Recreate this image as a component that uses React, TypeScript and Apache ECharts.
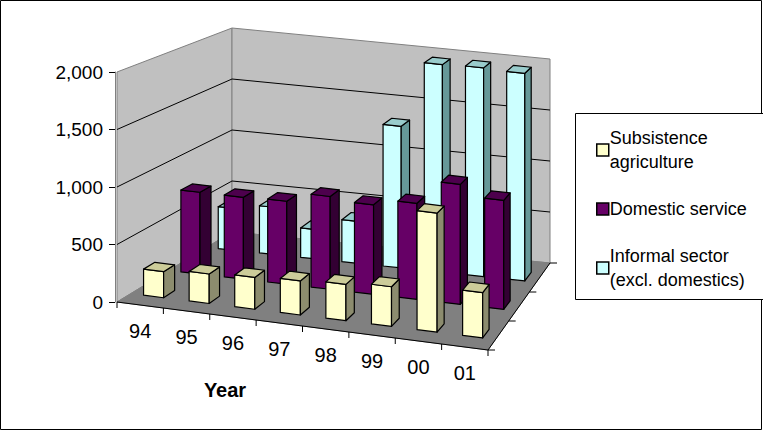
import React, { useEffect, useRef } from "react";
import * as echarts from "echarts";

const years = ["94", "95", "96", "97", "98", "99", "00", "01"];
const subsistence = [230, 260, 280, 300, 320, 350, 1050, 400];
const domestic = [750, 750, 760, 850, 820, 880, 1100, 1000];
const informal = [400, 450, 280, 400, 1350, 1980, 1990, 1980];
const yTicks = [0, 500, 1000, 1500, 2000];

const FONT = "'Liberation Sans', Arial, sans-serif";
const VMAX = 2000;
// floor corners on screen: front-left, front-right, back-left, back-right
const FL = [117, 302], FR = [488, 350], BL = [232, 232], BR = [550, 263];
const H_FRONT = 230, H_BACK = 204;

const proj = (u: number, w: number, v: number) => {
  const t = u / years.length;
  const fx = FL[0] + (FR[0] - FL[0]) * t, fy = FL[1] + (FR[1] - FL[1]) * t;
  const bx = BL[0] + (BR[0] - BL[0]) * t, by = BL[1] + (BR[1] - BL[1]) * t;
  const h = H_FRONT * (1 - w) + H_BACK * w;
  return [fx + (bx - fx) * w, fy + (by - fy) * w - (v / VMAX) * h];
};

const rows = [
  { name: "Subsistence\nagriculture", data: subsistence, w: 0.17, front: "#FFFFCC", side: "#8C8C6E", top: "#CCCC99" },
  { name: "Domestic service", data: domestic, w: 0.5, front: "#660066", side: "#330033", top: "#4D004D" },
  { name: "Informal sector\n(excl. domestics)", data: informal, w: 0.83, front: "#CCFFFF", side: "#669999", top: "#99CCCC" },
];

const App = () => {
  const chartRef = useRef<HTMLDivElement>(null);

  useEffect(() => {
    document.body.style.margin = "0";
    const myChart = echarts.init(chartRef.current!, null, { renderer: "svg" });

    // read category position and value back through the grid's scales
    const readUV = (params: any, api: any) => {
      const cs = params.coordSys;
      const c = api.coord([api.value(0), api.value(1)]);
      const u = ((c[0] - cs.x) / cs.width) * years.length;
      const v = ((cs.y + cs.height - c[1]) / cs.height) * VMAX;
      return [u, v];
    };

    const poly = (pts: number[][], fill: string, stroke = "#000", lw = 1.2) => ({
      type: "polygon",
      shape: { points: pts },
      style: { fill, stroke, lineWidth: lw, lineJoin: "round" },
    });

    const barSeries = rows
      .slice()
      .reverse()
      .map((r) => ({
        type: "custom",
        name: r.name,
        coordinateSystem: "cartesian2d",
        itemStyle: { color: r.front, borderColor: "#000", borderWidth: 1 },
        data: r.data.map((v, i) => [i, v]),
        renderItem: (params: any, api: any) => {
          const [u, v] = readUV(params, api);
          const u0 = u - 0.22, u1 = u + 0.22, w0 = r.w - 0.05, w1 = r.w + 0.05;
          return {
            type: "group",
            children: [
              poly([proj(u0, w0, 0), proj(u1, w0, 0), proj(u1, w0, v), proj(u0, w0, v)], r.front),
              poly([proj(u1, w0, 0), proj(u1, w1, 0), proj(u1, w1, v), proj(u1, w0, v)], r.side),
              poly([proj(u0, w0, v), proj(u1, w0, v), proj(u1, w1, v), proj(u0, w1, v)], r.top),
            ],
          };
        },
      }));

    const wallSeries = {
      type: "custom",
      silent: true,
      coordinateSystem: "cartesian2d",
      data: [[0, 0]],
      renderItem: () => {
        const n = years.length;
        const children: any[] = [
          poly([proj(0, 0, 0), proj(0, 1, 0), proj(0, 1, VMAX), proj(0, 0, VMAX)], "#C0C0C0", "#808080", 1),
          poly([proj(0, 1, 0), proj(n, 1, 0), proj(n, 1, VMAX), proj(0, 1, VMAX)], "#C0C0C0", "#808080", 1),
          poly([proj(0, 0, 0), proj(n, 0, 0), proj(n, 1, 0), proj(0, 1, 0)], "#808080", "#808080", 1),
        ];
        yTicks.slice(1, -1).forEach((t) => {
          children.push({
            type: "polyline",
            shape: { points: [proj(0, 0, t), proj(0, 1, t), proj(n, 1, t)] },
            style: { stroke: "#000", lineWidth: 1, fill: "none" },
          });
        });
        for (let i = 0; i <= n; i++) {
          const p = proj(i, 0, 0);
          children.push({ type: "line", shape: { x1: p[0], y1: p[1], x2: p[0], y2: p[1] + 6 }, style: { stroke: "#000", lineWidth: 1 } });
        }
        [0, 1 / 3, 2 / 3, 1].forEach((w) => {
          const p = proj(n, w, 0);
          children.push({ type: "line", shape: { x1: p[0], y1: p[1], x2: p[0] + 7, y2: p[1] }, style: { stroke: "#000", lineWidth: 1 } });
        });
        const a = proj(0, 0, 0), b = proj(n, 0, 0);
        children.push({ type: "line", shape: { x1: a[0], y1: a[1], x2: b[0], y2: b[1] }, style: { stroke: "#000", lineWidth: 1 } });
        const c = proj(n, 1, 0);
        children.push({ type: "line", shape: { x1: b[0], y1: b[1], x2: c[0], y2: c[1] }, style: { stroke: "#000", lineWidth: 1 } });
        return { type: "group", children };
      },
    };

    const labelSeries = {
      type: "custom",
      silent: true,
      coordinateSystem: "cartesian2d",
      data: years.map((_, i) => [i, 0]),
      renderItem: (params: any, api: any) => {
        const [u] = readUV(params, api);
        const p = proj(u, 0, 0);
        return {
          type: "text",
          x: p[0],
          y: p[1] + 26,
          style: { text: years[api.value(0)], fill: "#000", font: `20px ${FONT}`, align: "center", verticalAlign: "middle" },
        };
      },
    };

    const option = {
      animation: false,
      textStyle: { fontFamily: FONT },
      grid: { left: 115, width: 435, top: 72, height: 230 },
      xAxis: { type: "category", data: years, show: false },
      yAxis: {
        type: "value",
        min: 0,
        max: VMAX,
        interval: 500,
        axisLine: { show: true, lineStyle: { color: "#808080" } },
        axisTick: { show: true, length: 6, lineStyle: { color: "#000" } },
        splitLine: { show: false },
        axisLabel: {
          color: "#000",
          fontSize: 19,
          fontFamily: FONT,
          margin: 12,
          formatter: (v: number) => v.toLocaleString("en-US"),
        },
      },
      legend: {
        orient: "vertical",
        left: 591,
        top: 121,
        itemGap: 23,
        itemWidth: 12,
        itemHeight: 12,
        icon: "rect",
        data: rows.map((r) => r.name),
        itemStyle: { borderColor: "#000", borderWidth: 1.5 },
        textStyle: { fontSize: 18, fontFamily: FONT, color: "#000", lineHeight: 24, padding: [0, 0, 0, -4] },
      },
      graphic: [
        { type: "rect", shape: { x: 0.5, y: 0.5, width: 761, height: 429 }, style: { fill: "none", stroke: "#000", lineWidth: 1 }, z: -10 },
        { type: "rect", shape: { x: 575.5, y: 113.5, width: 200, height: 186 }, style: { fill: "#fff", stroke: "#000", lineWidth: 1 }, z: -5 },
        { type: "text", x: 225, y: 390, style: { text: "Year", font: `bold 20px ${FONT}`, fill: "#000", align: "center", verticalAlign: "middle" } },
      ],
      series: [wallSeries, ...barSeries, labelSeries],
    };
    myChart.setOption(option);

    return () => {
      myChart.dispose();
    };
  }, []);

  return <div ref={chartRef} style={{ width: 763, height: 431 }}></div>;
};
export default App;
